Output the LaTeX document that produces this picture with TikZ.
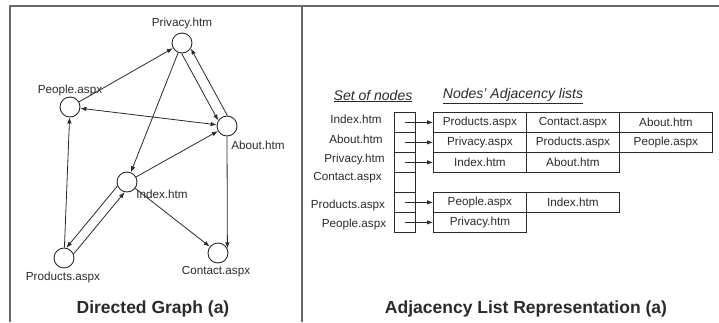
\documentclass[tikz,border=0pt]{standalone}
\usepackage{fontspec}
\setmainfont{Liberation Sans}
\usetikzlibrary{arrows.meta}

\definecolor{ink}{HTML}{2A2A2A}
\definecolor{framegray}{HTML}{6A6A6A}

\tikzset{
  vertex/.style={circle, draw=ink, line width=0.9pt, minimum size=20pt, inner sep=0pt},
  vlabel/.style={font=\fontsize{11.7}{12}\selectfont, text=ink, inner sep=0pt},
  edge/.style={draw=ink, line width=0.8pt, -{Latex[length=6pt,width=4.5pt]}},
  bothedge/.style={draw=ink, line width=0.8pt, {Latex[length=6pt,width=4.5pt]}-{Latex[length=6pt,width=4.5pt]}},
  slot/.style={draw=ink, line width=0.8pt, minimum width=21pt, minimum height=20pt, inner sep=0pt, anchor=north west},
  cell/.style={draw=ink, line width=0.8pt, minimum width=93pt, minimum height=20pt, inner sep=0pt, anchor=north west,
               font=\fontsize{11.7}{12}\selectfont, text=ink},
  heading/.style={font=\itshape\fontsize{14}{15}\selectfont, text=ink, inner sep=0pt},
  caption/.style={font=\bfseries\fontsize{17.5}{18}\selectfont, text=ink, inner sep=0pt},
  frameline/.style={draw=framegray, line width=1.8pt}
}

\begin{document}
\begin{tikzpicture}[x=1pt,y=-1pt]
\useasboundingbox (0,0) rectangle (719,322);

% frame and divider
\draw[frameline] (10,322) -- (10,6) -- (719,6);
\draw[frameline] (302,6) -- (302,322);

% ---------- directed graph ----------
\node[vertex] (Pr) at (182,43) {};
\node[vertex] (Pe) at (70,107) {};
\node[vertex] (Ab) at (227,126) {};
\node[vertex] (In) at (127,182) {};
\node[vertex] (Pd) at (64,258) {};
\node[vertex] (Co) at (218,253) {};

\node[vlabel] (PrL) at (182,23) {Privacy.htm};
\node[vlabel] (PeL) at (70,90) {People.aspx};
\node[vlabel] (AbL) at (258,145) {About.htm};
\node[vlabel] (InL) at (162,194) {Index.htm};
\node[vlabel] (PdL) at (63,277) {Products.aspx};
\node[vlabel] (CoL) at (216,272) {Contact.aspx};

\draw[edge] (Pe) -- (Pr);
\draw[bothedge] (Ab) -- (Pe);
\draw[edge] (Pr.-92) -- (Ab.148);
\draw[edge] (Ab.88) -- (Pr.-32);
\draw[edge] (Pr) -- (In);
\draw[edge] (In) -- (Ab);
\draw[edge] (In.203) -- (Pd.77);
\draw[edge] (Pd.23) -- (In.-103);
\draw[edge] (In) -- (Co);
\draw[edge] (Ab.south) -- (Co.26);
\draw[edge] (Pd) -- (Pe);

\node[caption] (capL) at (153,309) {Directed Graph (a)};

% ---------- adjacency lists ----------
\node[heading] (hSet) at (373,96) {\underline{Set of nodes}};
\node[heading] (hAdj) at (513,96) {\underline{Nodes' Adjacency lists}};

\node[vlabel] (nIndex) at (356,119) {Index.htm};
\node[vlabel] (nAbout) at (356,139) {About.htm};
\node[vlabel] (nPriv)  at (354.5,159) {Privacy.htm};
\node[vlabel] (nCont)  at (347.5,178) {Contact.aspx};
\node[vlabel] (nProd)  at (348,205) {Products.aspx};
\node[vlabel] (nPeop)  at (354,224) {People.aspx};

\node[slot] (s1) at (394,112) {};
\node[slot] (s2) at (394,132) {};
\node[slot] (s3) at (394,152) {};
\node[slot] (s4) at (394,172) {};
\node[slot] (s5) at (394,192) {};
\node[slot] (s6) at (394,212) {};

\node[cell] (a1) at (433,112) {Products.aspx};
\node[cell] (a2) at (526,112) {Contact.aspx};
\node[cell] (a3) at (619,112) {About.htm};
\node[cell] (b1) at (433,132) {Privacy.aspx};
\node[cell] (b2) at (526,132) {Products.aspx};
\node[cell] (b3) at (619,132) {People.aspx};
\node[cell] (c1) at (433,152) {Index.htm};
\node[cell] (c2) at (526,152) {About.htm};
\node[cell] (e1) at (433,192) {People.aspx};
\node[cell] (e2) at (526,192) {Index.htm};
\node[cell] (f1) at (433,212) {Privacy.htm};

\draw[edge] (s1.center) -- (a1.west);
\draw[edge] (s2.center) -- (b1.west);
\draw[edge] (s3.center) -- (c1.west);
\draw[edge] (s5.center) -- (e1.west);
\draw[edge] (s6.center) -- (f1.west);

\node[caption] (capR) at (526,309) {Adjacency List Representation (a)};
\end{tikzpicture}
\end{document}
